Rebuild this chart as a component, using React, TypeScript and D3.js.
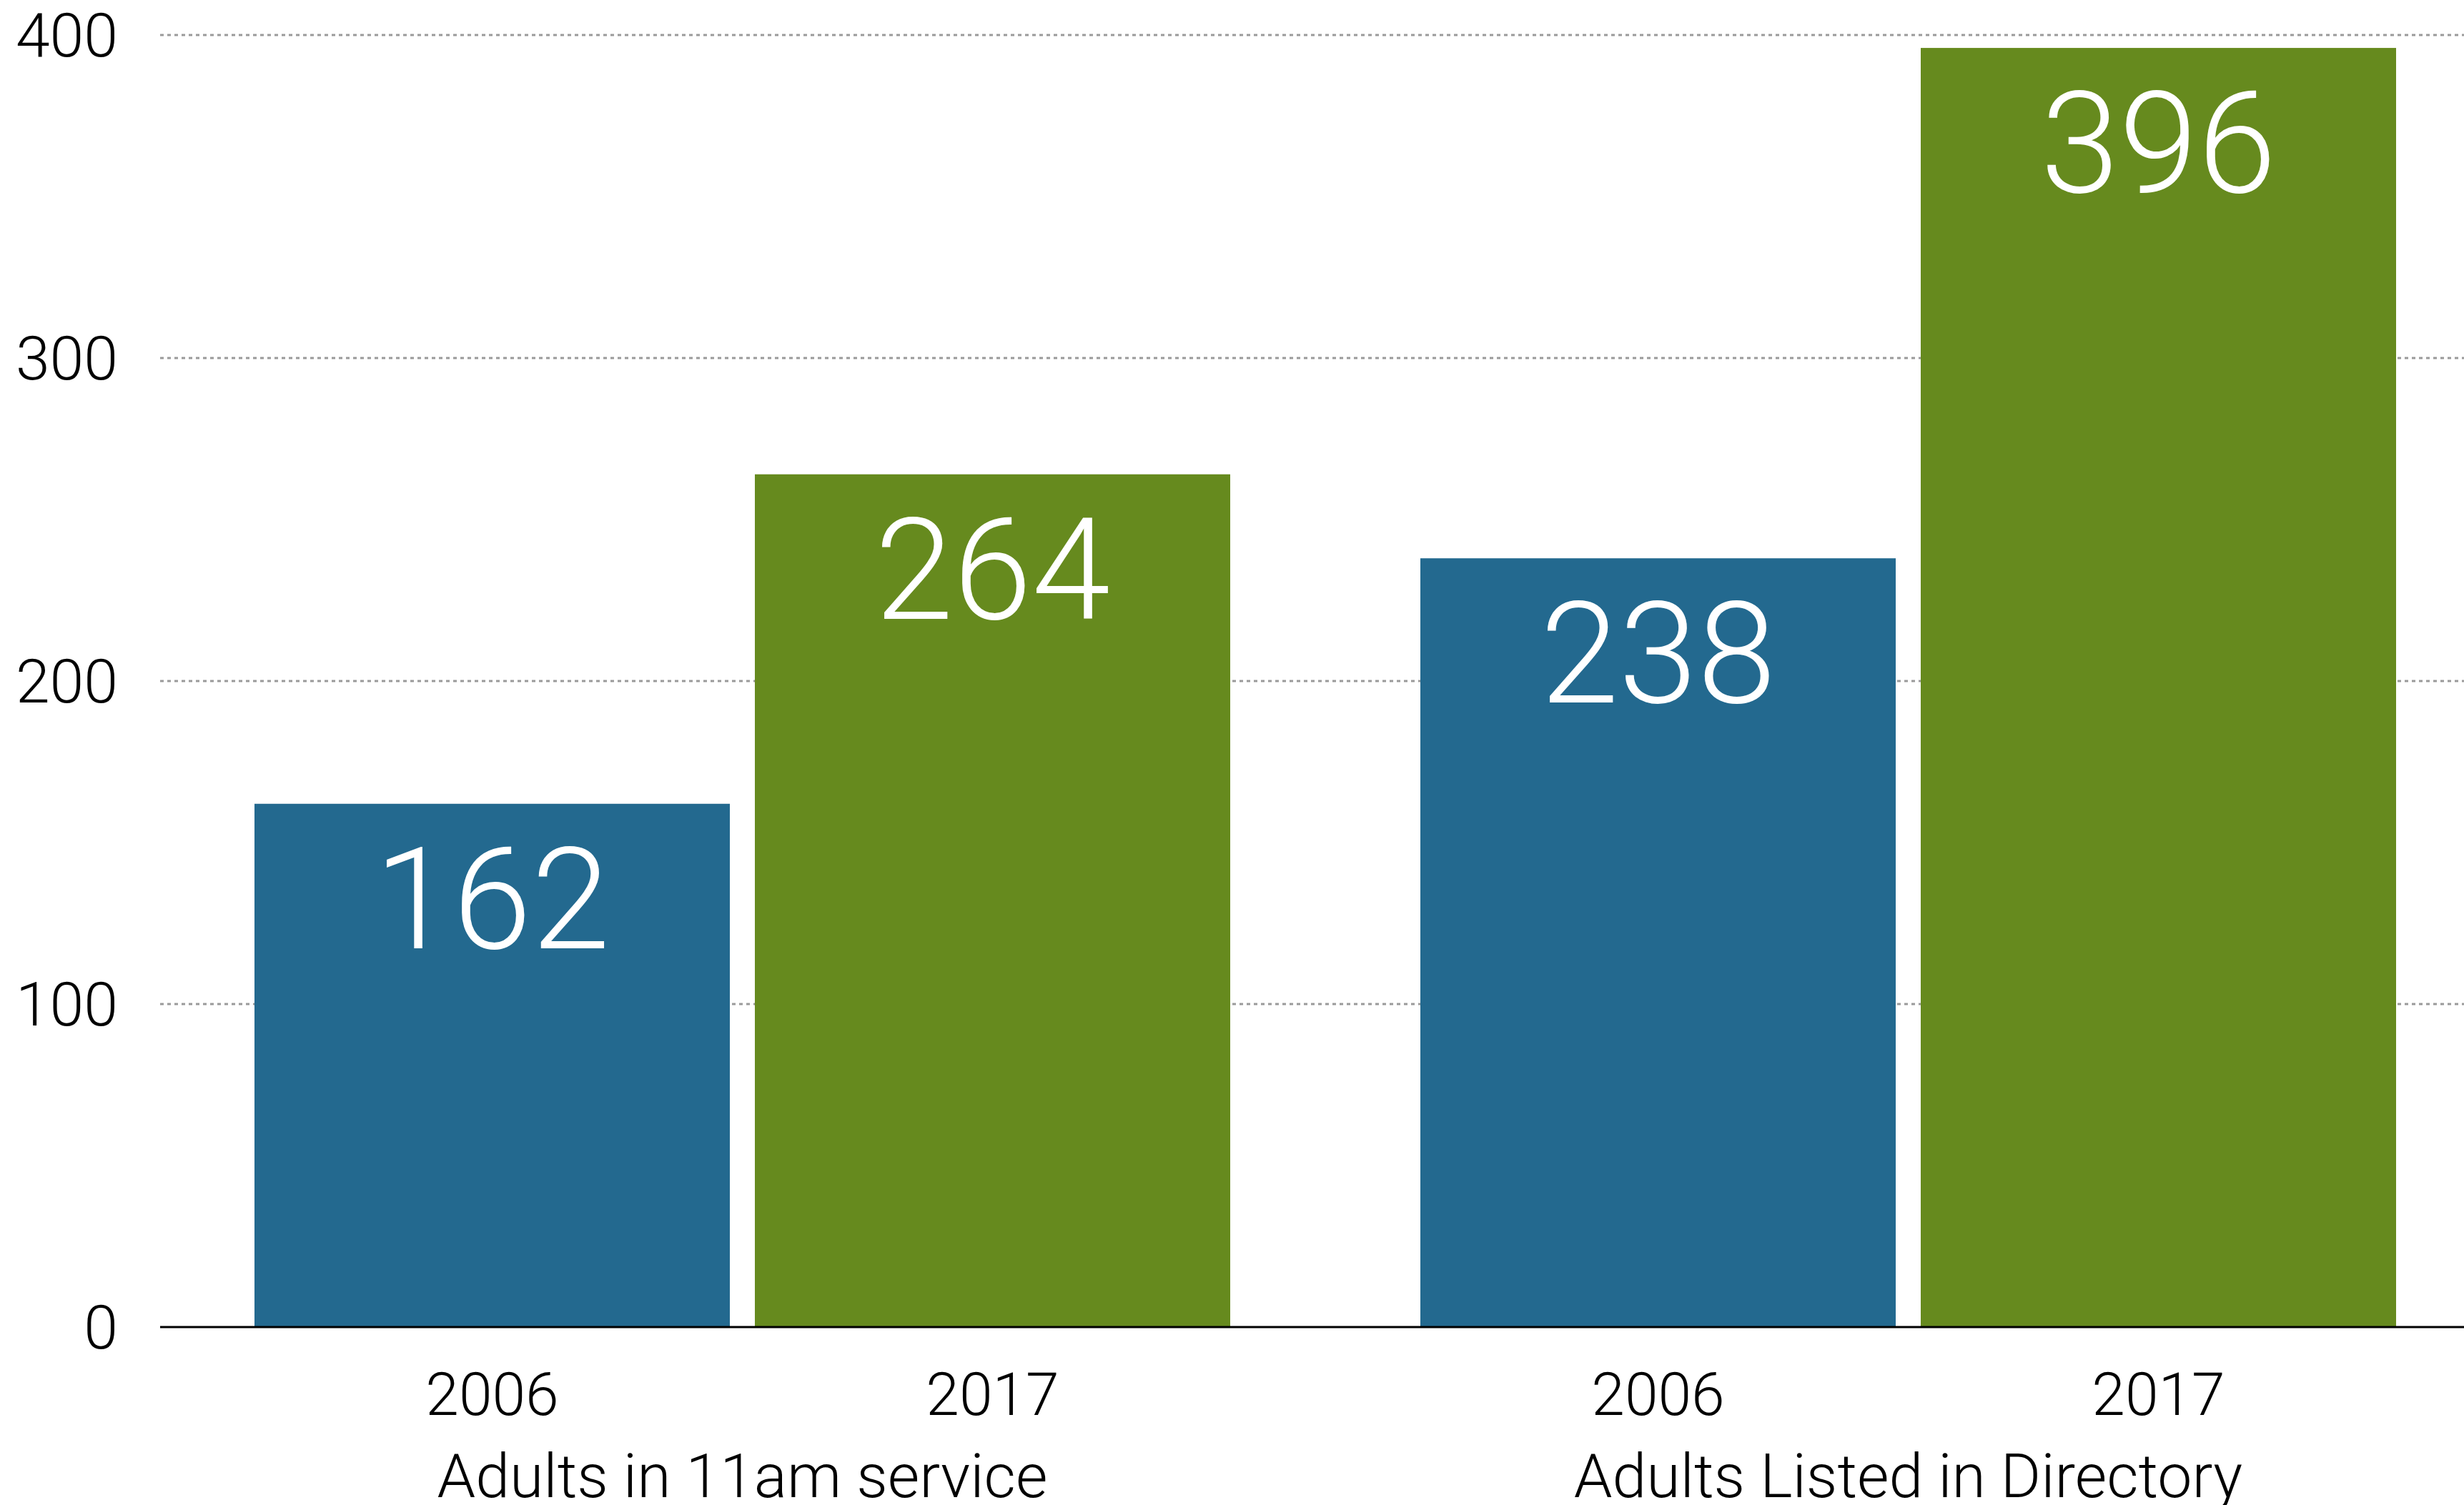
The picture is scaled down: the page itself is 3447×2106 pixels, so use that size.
import { useEffect } from "react";
import * as d3 from "d3";

const groups = ["Adults in 11am service", "Adults Listed in Directory"];
const years = ["2006", "2017"];
const values2006 = [162, 238];
const values2017 = [264, 396];
const yTicks = [0, 100, 200, 300, 400];

const colors: Record<string, string> = { "2006": "#23698F", "2017": "#668A1E" };

export default function App() {
  useEffect(() => {
    document.body.style.margin = "0";
  }, []);

  const width = 3447;
  const height = 2106;
  const axisLeft = 224;
  const font = "'Helvetica Neue', Roboto, 'Liberation Sans', sans-serif";

  const y = d3.scaleLinear().domain([0, 400]).range([1857, 49]);
  const x0 = d3.scaleBand<string>().domain(groups).range([223, 3485]).padding(0);
  const x1 = d3
    .scaleBand<string>()
    .domain(years)
    .range([0, x0.bandwidth()])
    .paddingInner(0.05)
    .paddingOuter(0.19);

  const rows = groups.map((g, i) => ({
    group: g,
    bars: [
      { year: "2006", value: values2006[i] },
      { year: "2017", value: values2017[i] },
    ],
  }));

  return (
    <svg width={width} height={height} style={{ display: "block", background: "#fff" }}>
      {/* grid */}
      {yTicks
        .filter((t) => t > 0)
        .map((t) => (
          <line
            key={t}
            x1={axisLeft}
            x2={width}
            y1={y(t)}
            y2={y(t)}
            stroke="#9a9a9a"
            strokeWidth={3}
            strokeDasharray="5 5"
          />
        ))}
      {/* y labels */}
      {yTicks.map((t) => (
        <text
          key={t}
          x={165}
          y={y(t)}
          dy="0.35em"
          textAnchor="end"
          fontFamily={font}
          fontWeight={300}
          fontSize={86}
          fill="#000"
        >
          {t}
        </text>
      ))}
      {rows.map((r) => (
        <g key={r.group} transform={`translate(${x0(r.group)},0)`}>
          {r.bars.map((b) => (
            <g key={b.year}>
              <rect
                x={x1(b.year)}
                y={y(b.value)}
                width={x1.bandwidth()}
                height={y(0) - y(b.value)}
                fill={colors[b.year]}
              />
              <text
                x={(x1(b.year) ?? 0) + x1.bandwidth() / 2}
                y={y(b.value) + 202}
                textAnchor="middle"
                fontFamily={font}
                fontWeight={300}
                fontSize={198}
                fill="#fff"
              >
                {b.value}
              </text>
              <text
                x={(x1(b.year) ?? 0) + x1.bandwidth() / 2}
                y={1980}
                textAnchor="middle"
                fontFamily={font}
                fontWeight={300}
                fontSize={84}
                fill="#000"
              >
                {b.year}
              </text>
            </g>
          ))}
          <text
            x={x0.bandwidth() / 2}
            y={2095}
            textAnchor="middle"
            fontFamily={font}
            fontWeight={300}
            fontSize={86}
            fill="#000"
          >
            {r.group}
          </text>
        </g>
      ))}
      {/* baseline */}
      <line x1={axisLeft} x2={width} y1={y(0)} y2={y(0)} stroke="#000" strokeWidth={3} />
    </svg>
  );
}
